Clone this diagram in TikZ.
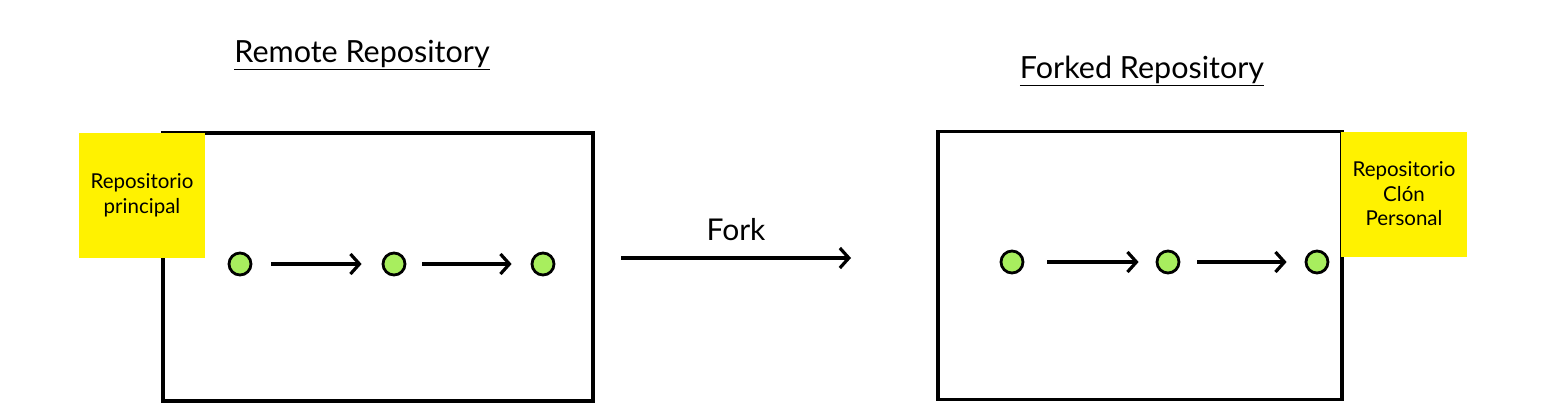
\documentclass[tikz,border=0pt]{standalone}
\usepackage{fontspec}
\setmainfont{Lato}
\usetikzlibrary{arrows.meta,positioning}
\definecolor{notey}{HTML}{FFF200}
\definecolor{commitg}{HTML}{A8EE5E}
\begin{document}
\begin{tikzpicture}[x=1pt,y=-1pt,
    repobox/.style={draw, line width=3.2pt, minimum width=430pt, minimum height=268pt, inner sep=0pt},
    note/.style={fill=notey, minimum width=126pt, minimum height=125pt, inner sep=0pt, align=center, font=\fontsize{20.5}{24.5}\selectfont},
    commit/.style={circle, draw, fill=commitg, line width=2.8pt, minimum size=22pt, inner sep=0pt},
    title/.style={font=\fontsize{30.5}{34}\selectfont},
    link/.style={->, line width=3.2pt},
    >={Straight Barb[length=9pt,width=20pt,line width=3.2pt]}]
  \useasboundingbox (0,0) rectangle (1552,416);
  % remote side
  \node[repobox] (remote) at (378,267) {};
  \node[note] (mainnote) at (142,195.5) {Repositorio\\principal};
  \node[title] (remotetitle) at (362,55) {\underline{Remote Repository}};
  \node[commit] (r1) at (240,264) {};
  \node[commit] (r2) at (394,264) {};
  \node[commit] (r3) at (543,264) {};
  \draw[link, shorten <=19pt, shorten >=20pt] (r1) -- (r2);
  \draw[link, shorten <=16pt, shorten >=19pt] (r2) -- (r3);
  % fork arrow
  \coordinate (forkstart) at (621,258);
  \coordinate (forkend) at (851,258);
  \draw[link] (forkstart) -- node[above=12pt, font=\fontsize{30}{32}\selectfont] (forklabel) {Fork} (forkend);
  % forked side
  \node[repobox, minimum width=404pt] (forked) at (1140,265.5) {};
  \node[note] (clonenote) at (1404,194) {Repositorio\\Clón\\Personal};
  \node[title] (forkedtitle) at (1142,71) {\underline{Forked Repository}};
  \node[commit] (f1) at (1012,262) {};
  \node[commit] (f2) at (1168,262) {};
  \node[commit] (f3) at (1317,262) {};
  \draw[link, shorten <=23pt, shorten >=17pt] (f1) -- (f2);
  \draw[link, shorten <=17pt, shorten >=18pt] (f2) -- (f3);
\end{tikzpicture}
\end{document}
